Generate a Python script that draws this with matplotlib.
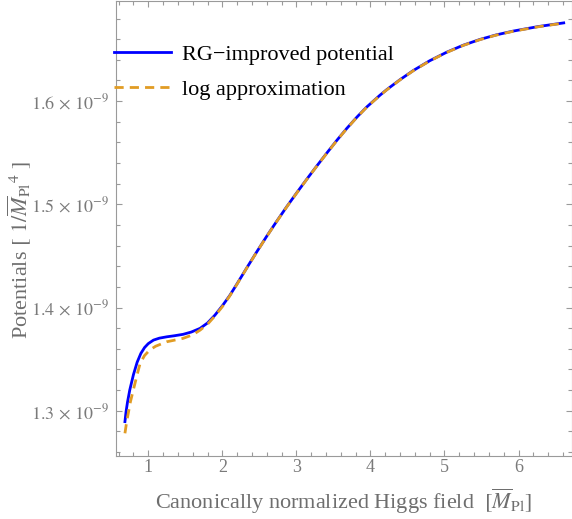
import matplotlib
matplotlib.use('Agg')
import matplotlib.pyplot as plt
from matplotlib.ticker import FixedLocator, MultipleLocator

plt.rcParams['font.family'] = ['Liberation Serif', 'DejaVu Serif']
plt.rcParams['mathtext.fontset'] = 'stix'

# values (potential in units of 1e-9 / M_Pl^4)
x_rg = [0.685, 0.70, 0.72, 0.75, 0.80, 0.85, 0.90, 0.95, 1.00, 1.07, 1.15,
        1.25, 1.35, 1.47, 1.58, 1.70, 1.80, 1.90, 2.00, 2.10, 2.20, 2.33,
        2.47, 2.60, 2.73, 2.87, 3.00, 3.14, 3.27, 3.41, 3.55, 3.68, 3.82,
        3.95, 4.13, 4.22, 4.40, 4.58, 4.80, 5.03, 5.25, 5.48, 5.70, 5.93,
        6.27, 6.61]
v_rg = [1.2894, 1.2990, 1.3085, 1.3200, 1.3350, 1.3470, 1.3555, 1.3612,
        1.3650, 1.3684, 1.3703, 1.3716, 1.3726, 1.3740, 1.3762, 1.3798,
        1.3850, 1.3926, 1.4016, 1.4116, 1.4231, 1.4384, 1.4545, 1.4691,
        1.4831, 1.4977, 1.5107, 1.5243, 1.5366, 1.5496, 1.5623, 1.5735,
        1.5847, 1.5943, 1.6058, 1.6111, 1.6208, 1.6297, 1.6391, 1.6474,
        1.6541, 1.6598, 1.6642, 1.6679, 1.6723, 1.6758]

x_log = [0.685, 0.71, 0.73, 0.76, 0.80, 0.85, 0.89, 0.95, 1.02, 1.10, 1.25,
         1.47, 1.60, 1.70, 1.80, 1.90, 2.00, 2.10, 2.20, 2.33, 2.47, 2.60,
         2.73, 2.87, 3.00, 3.14, 3.27, 3.41, 3.55, 3.68, 3.82, 3.95, 4.13,
         4.22, 4.40, 4.58, 4.80, 5.03, 5.25, 5.48, 5.70, 5.93, 6.27, 6.61]
v_log = [1.2781, 1.2900, 1.2975, 1.3090, 1.3205, 1.3350, 1.3459, 1.3535,
         1.3588, 1.3625, 1.3668, 1.3701, 1.3735, 1.3781, 1.3838, 1.3918,
         1.4008, 1.4112, 1.4228, 1.4382, 1.4543, 1.4689, 1.4829, 1.4975,
         1.5105, 1.5241, 1.5364, 1.5494, 1.5621, 1.5733, 1.5845, 1.5941,
         1.6056, 1.6109, 1.6206, 1.6295, 1.6389, 1.6472, 1.6539, 1.6596,
         1.6640, 1.6677, 1.6721, 1.6756]

x_ticks = [1, 2, 3, 4, 5, 6]
y_ticks = [1.3, 1.4, 1.5, 1.6]
y_tick_labels = [r'$1.3\,\times\,10^{-9}$', r'$1.4\,\times\,10^{-9}$',
                 r'$1.5\,\times\,10^{-9}$', r'$1.6\,\times\,10^{-9}$']

gray = '#7a7a7a'
frame = '#9a9a9a'

fig = plt.figure(figsize=(5.72, 5.19), dpi=100)
ax = fig.add_axes([116 / 572, 63 / 519, 455.5 / 572, 455.5 / 519])

ax.plot(x_rg, [v * 1e-9 for v in v_rg], color='#0000ff', lw=2.0,
        label='RG\u2212improved potential')
ax.plot(x_log, [v * 1e-9 for v in v_log], color='#e19c24', lw=2.0,
        dashes=(3.3, 2.2), dash_capstyle='butt', label='log approximation')

ax.set_xlim(0.5643, 6.715)
ax.set_ylim(1.2561e-9, 1.6975e-9)

ax.xaxis.set_major_locator(FixedLocator(x_ticks))
ax.xaxis.set_minor_locator(MultipleLocator(0.2))
ax.yaxis.set_major_locator(FixedLocator([t * 1e-9 for t in y_ticks]))
ax.yaxis.set_minor_locator(MultipleLocator(0.02e-9))
ax.set_yticklabels(y_tick_labels)

ax.tick_params(which='both', direction='in', top=True, right=True,
               color=frame, width=0.8, labelcolor=gray, labelsize=13)
ax.tick_params(which='major', length=4.4, pad=2)
ax.tick_params(which='minor', length=2.6)
ax.tick_params(axis='y', pad=5)
for s in ax.spines.values():
    s.set_color(frame)
    s.set_linewidth(0.8)

ax.set_xlabel(r'Canonically normalized Higgs field  $[\overline{M}_{\mathrm{Pl}}]$',
              fontsize=16, color='#6e6e6e', va='center')
ax.xaxis.set_label_coords(0.5, -(501 - 456) / 455.5)
ax.set_ylabel(r'Potentials $[\ 1/\overline{M}_{\mathrm{Pl}}{}^{4}\ ]$',
              fontsize=16, color='#6e6e6e', va='center')
ax.yaxis.set_label_coords((20 - 116) / 455.5, (456 - 250) / 455.5)

ax.legend(loc='upper left', bbox_to_anchor=(114 / 572, 1 - 44 / 519),
          bbox_transform=fig.transFigure, frameon=False, fontsize=16,
          handlelength=2.57, handletextpad=0.5, labelspacing=0.68,
          borderpad=0, borderaxespad=0)

fig.savefig('out.png', dpi=100)
